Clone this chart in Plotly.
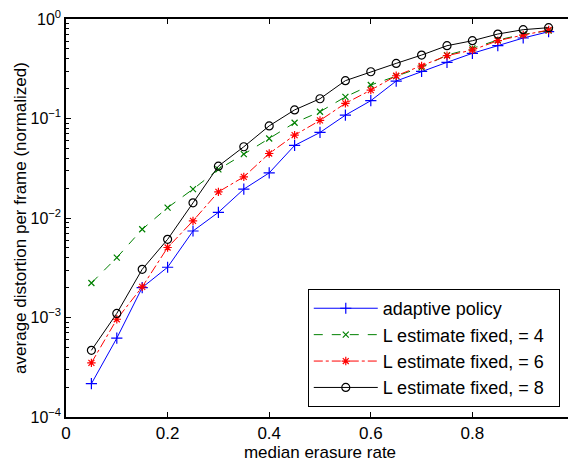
import plotly.graph_objects as go

erasure_rate = [0.05, 0.10, 0.15, 0.20, 0.25, 0.30, 0.35, 0.40, 0.45, 0.50,
                0.55, 0.60, 0.65, 0.70, 0.75, 0.80, 0.85, 0.90, 0.95]
adaptive = [2.16e-4, 6.2e-4, 2.0e-3, 3.2e-3, 7.4e-3, 1.14e-2, 1.95e-2, 2.84e-2, 5.36e-2, 7.24e-2,
            0.108, 0.151, 0.238, 0.298, 0.367, 0.452, 0.539, 0.644, 0.745]
fixed_4 = [2.22e-3, 4.0e-3, 7.7e-3, 1.27e-2, 1.95e-2, 3.08e-2, 4.38e-2, 6.3e-2, 9.06e-2, 0.117,
           0.165, 0.217, 0.267, 0.327, 0.434, 0.507, 0.615, 0.701, 0.763]
fixed_6 = [3.5e-4, 9.6e-4, 2.03e-3, 5.05e-3, 9.35e-3, 1.83e-2, 2.59e-2, 4.45e-2, 6.8e-2, 9.57e-2,
           0.142, 0.193, 0.269, 0.337, 0.428, 0.488, 0.605, 0.690, 0.775]
fixed_8 = [4.68e-4, 1.1e-3, 3.05e-3, 6.1e-3, 1.42e-2, 3.32e-2, 5.2e-2, 8.43e-2, 0.122, 0.158,
           0.240, 0.295, 0.358, 0.434, 0.539, 0.605, 0.706, 0.781, 0.818]

series_names = ["adaptive policy", "L estimate fixed, = 4", "L estimate fixed, = 6", "L estimate fixed, = 8"]
x_ticks = [0, 0.2, 0.4, 0.6, 0.8, 1]
x_tick_labels = ["0", "0.2", "0.4", "0.6", "0.8", "1"]
y_ticks = [1e-4, 1e-3, 1e-2, 1e-1, 1]
y_tick_labels = ["10<sup>−4</sup>", "10<sup>−3</sup>", "10<sup>−2</sup>", "10<sup>−1</sup>", "10<sup>0</sup>"]

styles = [
    dict(color="#0000ff", dash="solid", symbol="cross-thin", size=8),
    dict(color="#008000", dash="dash", symbol="x-thin", size=6),
    dict(color="#ff0000", dash="dashdot", symbol="asterisk-open", size=7),
    dict(color="#000000", dash="solid", symbol="circle-open", size=8),
]

fig = go.Figure()
for name, ys, st in zip(series_names, [adaptive, fixed_4, fixed_6, fixed_8], styles):
    fig.add_trace(go.Scatter(
        x=erasure_rate, y=ys, name=name + "\u00a0\u00a0", mode="lines+markers", cliponaxis=False,
        line=dict(color=st["color"], width=1, dash=st["dash"]),
        marker=dict(symbol=st["symbol"], size=st["size"], color=st["color"],
                    line=dict(color=st["color"], width=1.2)),
    ))

minor_vals = [m * 10 ** e for e in range(-4, 0) for m in range(2, 10)]

# The page body adds an 8px margin, so the figure is 8px smaller than the window.
fig.update_layout(
    width=568, height=454,
    margin=dict(l=58, r=2, t=11, b=45),
    paper_bgcolor="white", plot_bgcolor="white",
    font=dict(family="Liberation Sans, Arial, sans-serif", size=17, color="black"),
    showlegend=True,
    legend=dict(x=0.972, y=0.025, xanchor="right", yanchor="bottom",
                bordercolor="black", borderwidth=1, bgcolor="white",
                font=dict(size=18), tracegroupgap=0, itemwidth=64),
    xaxis=dict(range=[0, 1], tickvals=x_ticks, ticktext=x_tick_labels, automargin=False,
               ticklabeloverflow="allow",
               ticks="inside", ticklen=5, tickcolor="black",
               showline=True, linecolor="black", linewidth=1.5, mirror="ticks",
               showgrid=False, zeroline=False, tickfont=dict(size=17),
               title=dict(text="median erasure rate", font=dict(size=17), standoff=0)),
    yaxis=dict(type="log", range=[-4, 0], tickvals=y_ticks, ticktext=y_tick_labels, automargin=False,
               ticklabeloverflow="allow",
               ticks="inside", ticklen=5, tickcolor="black",
               showline=True, linecolor="black", linewidth=1.5, mirror="ticks",
               showgrid=False, zeroline=False, tickfont=dict(size=16),
               minor=dict(tickvals=minor_vals, ticks="inside", ticklen=3, tickcolor="black", showgrid=False),
               title=dict(text="average distortion per frame (normalized)", font=dict(size=17), standoff=0)),
)

fig.write_html("out.html")
